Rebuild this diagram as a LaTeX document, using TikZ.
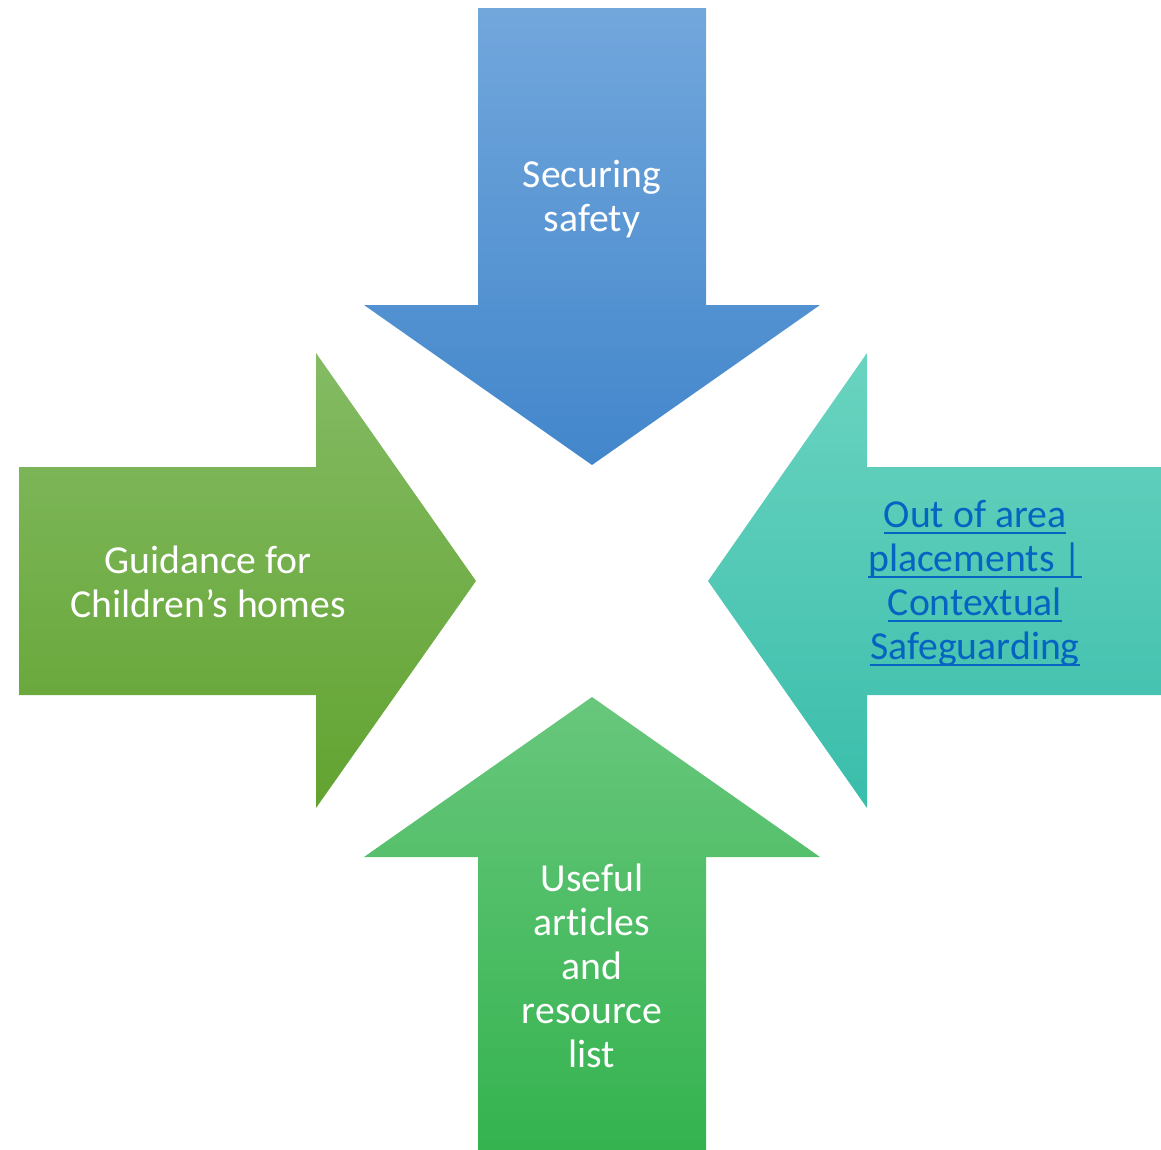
\documentclass[tikz,border=0pt]{standalone}
\usepackage{fontspec}
\setmainfont[Ligatures=NoCommon]{Carlito}
\newsavebox\lnkbox
\newcommand{\linkul}[1]{\sbox\lnkbox{#1}\rlap{\usebox\lnkbox}\rule[-3.8pt]{\wd\lnkbox}{1.1pt}}
\definecolor{safetytop}{RGB}{114,167,220}
\definecolor{safetybot}{RGB}{66,134,203}
\definecolor{guidetop}{RGB}{132,187,100}
\definecolor{guidebot}{RGB}{98,163,48}
\definecolor{areatop}{RGB}{106,212,192}
\definecolor{areabot}{RGB}{58,189,171}
\definecolor{usetop}{RGB}{104,199,124}
\definecolor{usebot}{RGB}{52,179,79}
\definecolor{linkblue}{RGB}{5,99,193}
\tikzset{
  lbl/.style={align=center,inner sep=0pt,text=white,font=\fontsize{22.6}{25.1}\selectfont},
  lnk/.style={lbl,text=linkblue}
}
\begin{document}
\begin{tikzpicture}[x=0.02cm,y=-0.02cm]
\useasboundingbox (0,0) rectangle (1161,1150);
% four arrows pointing to the middle
\shade[top color=safetytop,bottom color=safetybot]
  (478,8) -- (706,8) -- (706,305) -- (820,305) -- (592,465) -- (364,305) -- (478,305) -- cycle;
\shade[top color=guidetop,bottom color=guidebot]
  (19,467) -- (316,467) -- (316,353) -- (476,581) -- (316,808) -- (316,695) -- (19,695) -- cycle;
\shade[top color=areatop,bottom color=areabot]
  (1161,467) -- (867,467) -- (867,353) -- (708,581) -- (867,808) -- (867,695) -- (1161,695) -- cycle;
\shade[top color=usetop,bottom color=usebot]
  (478,1150) -- (706,1150) -- (706,857) -- (820,857) -- (592,697) -- (364,857) -- (478,857) -- cycle;

\node[lbl] (safety) at (592,199) {Securing\\safety};
\node[lbl] (guidance) at (208,582) {Guidance for\\Children’s homes};
\node[lnk] (placements) at (975,583) {\linkul{Out of area}\\\linkul{placements |}\\\linkul{Contextual}\\\linkul{Safeguarding}};
\node[lbl] (articles) at (592,966) {Useful\\articles\\and\\resource\\list};
\end{tikzpicture}
\end{document}
